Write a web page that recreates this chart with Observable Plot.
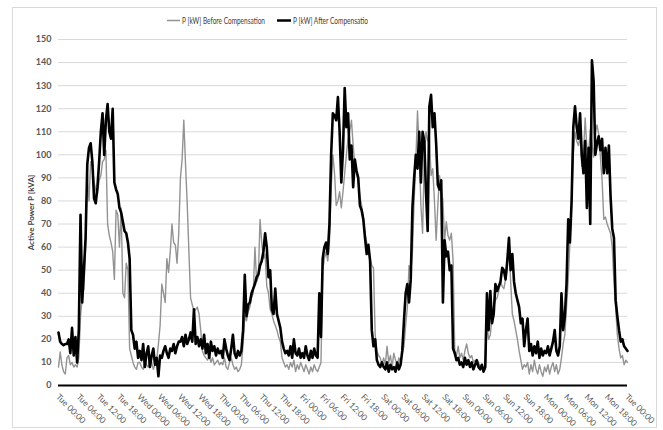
<!DOCTYPE html>
<html><head><meta charset="utf-8">
<script src="https://cdn.jsdelivr.net/npm/d3@7"></script>
<script src="https://cdn.jsdelivr.net/npm/@observablehq/plot@0.6"></script>
<style>
body{margin:0;background:#fff;}
#wrap{position:relative;width:663px;height:430px;overflow:hidden;font-family:Lato,"Open Sans",sans-serif;background:#fff;}
#frame{position:absolute;left:12px;top:7px;width:645px;height:421px;border:1px solid #d9d9d9;box-sizing:border-box;}
#chart{position:absolute;left:0;top:0;}
#legend{position:absolute;left:0;top:0;}
</style></head>
<body>
<div id="wrap">
  <div id="frame"></div>
  <div id="chart"></div>
  <svg id="legend" width="663" height="34" xmlns="http://www.w3.org/2000/svg">
    <line x1="167" x2="180" y1="20.5" y2="20.5" stroke="#939393" stroke-width="1.5"/>
    <text id="lg1" x="182" y="23.5" font-family="Lato, sans-serif" font-size="8.5" fill="#404040" textLength="83" lengthAdjust="spacingAndGlyphs"></text>
    <line x1="277" x2="291" y1="20.5" y2="20.5" stroke="#000" stroke-width="2.5"/>
    <text id="lg2" x="293" y="23.5" font-family="Lato, sans-serif" font-size="8.5" fill="#404040" textLength="75" lengthAdjust="spacingAndGlyphs"></text>
  </svg>
</div>
<script>
// Series names
const seriesNames = ["P [kW] Before Compensation", "P [kW] After Compensatio"];
const yLabel = "Active Power P [kVA]";
// X tick labels (every 6 hours, Tue 00:00 to next Tue 00:00)
const xTickLabels = [
 "Tue 00:00","Tue 06:00","Tue 12:00","Tue 18:00",
 "Wed 00:00","Wed 06:00","Wed 12:00","Wed 18:00",
 "Thu 00:00","Thu 06:00","Thu 12:00","Thu 18:00",
 "Fri 00:00","Fri 06:00","Fri 12:00","Fri 18:00",
 "Sat 00:00","Sat 06:00","Sat 12:00","Sat 18:00",
 "Sun 00:00","Sun 06:00","Sun 12:00","Sun 18:00",
 "Mon 00:00","Mon 06:00","Mon 12:00","Mon 18:00",
 "Tue 00:00"];
const yTicks = [0,10,20,30,40,50,60,70,80,90,100,110,120,130,140,150];
// Half-hourly values, Tue 00:00 .. Tue 00:00
const before = [
 8,14.5,9,6,5,12,13,9,10,8,9,8,
 12,30,38,42,60,92,80,97,95,88,85,83,
 89,91,97,98,102,70,65,62,58,46,76,74,
 60,77,40,38,53,50,16,13,10,8,7,10,
 10,8,7,11,9,8,12,10,7,9,11,18,
 26,44,40,36,55,49,58,70,62,61,53,66,
 90,98,115,96,79,58,38,35,32,33,34,31,
 24,15,13,12,11,13,10,12,9,10,11,9,
 10,9,12,8,7,10,12,9,7,8,6,7,
 9,18,30,28,32,34,38,40,60,45,47,72,
 62,55,57,43,40,33,31,28,26,24,21,19,
 12,10,8,9,7,10,8,11,6,9,7,10,
 8,6,9,7,5,8,6,9,7,6,8,10,
 50,55,58,54,62,85,100,92,78,80,84,77,
 84,92,100,107,110,115,104,96,93,88,82,78,
 73,66,62,58,55,52,51,22,15,13,12,9,
 12,9,17,10,13,8,14,11,9,12,10,14,
 17,26,34,52,49,58,80,97,119,102,78,66,
 99,110,106,108,91,94,80,63,78,91,85,80,
 63,71,65,63,66,54,15,13,17,12,14,11,
 15,18,14,12,13,10,11,9,10,8,9,7,
 7,26,20,22,30,34,37,38,41,45,43,42,
 46,51,63,45,31,28,24,20,15,11,7,9,
 8,10,5,9,6,11,7,5,9,6,4,8,
 6,9,5,8,10,6,9,5,7,12,18,22,
 34,46,62,80,100,110,106,104,108,95,100,116,
 103,100,111,105,99,109,113,109,99,89,72,73,
 70,68,66,60,45,34,22,16,12,13,9,11,
 10];
const after = [
 23,19,18,17.5,18,18,20,14,25,13,21,10,
 24,74,36,50,64,96,103,105,97,81,79,86,
 97,110,118,100,115,122,110,107,120,88,85,83,
 77,75,71,67,66,62,55,24,22,16,19,12,
 15,11,18,8,14,17,8,13,16,9,12,4,
 13,12,15,17,14,12,16,15,18,14,17,19,
 19,21,17,22,18,20,23,19,33,18,21,17,
 20,16,22,14,18,12,19,15,17,13,16,14,
 15,12,20,16,13,11,16,22,14,12,15,13,
 15,24,48,30,35,36,40,42,44,47,48,52,
 54,58,66,60,47,50,33,31,42,31,28,25,
 19,16,14,15,13,17,12,20,14,13,16,12,
 14,12,17,13,11,15,12,16,13,12,40,21,
 55,60,62,57,70,100,118,117,115,125,110,88,
 102,129,112,118,98,104,86,98,93,90,78,76,
 72,64,57,61,54,24,17,20,11,9,8,10,
 8,7,10,6,9,7,8,6,10,7,9,15,
 28,40,44,36,46,77,90,100,94,110,88,110,
 106,84,67,121,126,112,118,105,87,85,89,36,
 63,56,58,50,52,16,14,11,12,9,10,8,
 12,9,11,8,10,7,9,11,8,7,9,6,
 8,40,24,41,27,31,44,41,43,45,51,50,
 46,54,64,50,57,45,40,37,34,27,29,17,
 24,29,15,18,13,17,14,19,12,16,13,15,
 14,17,13,16,19,24,15,13,17,40,24,30,
 44,72,62,80,112,121,112,107,118,100,92,106,
 77,103,70,141,132,100,105,108,102,107,92,103,
 92,104,82,68,64,37,30,24,19,20,17,16,
 15];

const rows = before.map((b, i) => ({h: i * 0.5, before: b, after: after[i]}));
const ticks = xTickLabels.map((label, i) => ({h: i * 6, label}));

document.getElementById("lg1").textContent = seriesNames[0];
document.getElementById("lg2").textContent = seriesNames[1];

const font = 'Lato,"Open Sans",sans-serif';
const chart = Plot.plot({
  width: 663, height: 430,
  marginTop: 39, marginBottom: 45, marginLeft: 58, marginRight: 36,
  style: {fontFamily: font, background: "transparent", overflow: "visible"},
  x: {domain: [0, 168], axis: null},
  y: {domain: [0, 150], axis: null},
  marks: [
    Plot.gridY(yTicks.slice(1), {stroke: "#d9d9d9", strokeOpacity: 1, strokeWidth: 1}),
    Plot.axisY(yTicks, {tickSize: 0, tickPadding: 7, fontSize: 9, fill: "#595959", fontWeight: "bold", label: null}),
    Plot.text([yLabel], {frameAnchor: "left", dx: -27, dy: 0, rotate: -90, textAnchor: "middle", lineAnchor: "middle", fontSize: 8, fontWeight: "bold", fill: "#404040"}),
    Plot.line(rows, {x: "h", y: "before", stroke: "#939393", strokeWidth: 1.4}),
    Plot.line(rows, {x: "h", y: "after", stroke: "#000", strokeWidth: 2.6}),
    Plot.ruleY([0], {stroke: "#000", strokeWidth: 2}),
    Plot.text(ticks, {x: "h", text: "label", frameAnchor: "bottom", dy: 10, dx: -1, rotate: 45, textAnchor: "start", lineAnchor: "middle", fontSize: 8.5, fill: "#595959"})
  ]
});
document.getElementById("chart").appendChild(chart);
</script>
</body></html>
